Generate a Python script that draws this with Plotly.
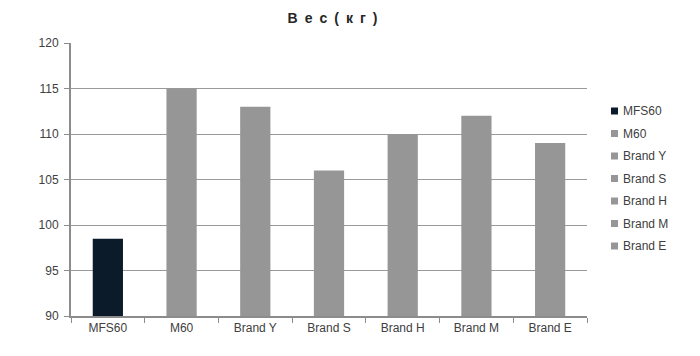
import plotly.graph_objects as go

categories = ["MFS60", "M60", "Brand Y", "Brand S", "Brand H", "Brand M", "Brand E"]
values = [98.5, 115, 113, 106, 110, 112, 109]
colors = ["#0b1b2a", "#969696", "#969696", "#969696", "#969696", "#969696", "#969696"]
y_ticks = [90, 95, 100, 105, 110, 115, 120]
title_text = "В\u2002е\u2002с\u2002(\u2002к\u2002г\u2002)"

FONT = "Liberation Sans, Arial, sans-serif"

# plot area in pixels
L, R, T, B = 71, 113, 43, 40
W, H = 700, 356
PW, PH = W - L - R, H - T - B

fig = go.Figure()
for c, v, col in zip(categories, values, colors):
    fig.add_trace(go.Bar(
        x=[c], y=[v], name=c, marker=dict(color=col, line=dict(width=0)),
        width=0.41, showlegend=False,
    ))

# custom legend (small squares + labels), built from the category list
shapes, annots = [], []
sq_x = (614.5 - L) / PW
tx_x = (620.5 - L) / PW
for i, (c, col) in enumerate(zip(categories, colors)):
    ypix = 111 + i * 22.5
    yp = (H - B - ypix) / PH
    shapes.append(dict(type="rect", xref="paper", yref="paper",
                       xsizemode="pixel", ysizemode="pixel",
                       xanchor=sq_x, yanchor=yp, x0=-3.5, x1=3.5, y0=-3.5, y1=3.5,
                       fillcolor=col, line=dict(width=0)))
    annots.append(dict(text=c, xref="paper", yref="paper", x=tx_x, y=yp,
                       xanchor="left", yanchor="middle", showarrow=False,
                       font=dict(family=FONT, size=12, color="#404040")))

fig.update_layout(
    width=W, height=H,
    margin=dict(l=L, r=R, t=T, b=B),
    paper_bgcolor="white", plot_bgcolor="white",
    barmode="overlay",
    font=dict(family=FONT, size=12, color="#404040"),
    title=dict(text="<b>" + title_text + "</b>", x=0.475, xanchor="center", y=0.95, yanchor="middle",
               font=dict(family=FONT, size=14, color="#262626")),
    shapes=shapes, annotations=annots,
    showlegend=False,
)
fig.update_xaxes(
    categoryorder="array", categoryarray=categories,
    showline=True, linecolor="#8c8c8c", linewidth=2,
    ticks="outside", tickson="boundaries", ticklen=5, tickcolor="#8c8c8c", tickwidth=1,
    showgrid=False, tickfont=dict(size=12, color="#404040"),
)
fig.update_yaxes(
    range=[90, 120], tickvals=y_ticks, ticktext=[str(t) for t in y_ticks],
    showline=True, linecolor="#8c8c8c", linewidth=2,
    ticks="outside", ticklen=5, tickcolor="#8c8c8c", tickwidth=1,
    ticklabelstandoff=3,
    showgrid=True, gridcolor="#9a9a9a", gridwidth=1, zeroline=False,
    tickfont=dict(size=12, color="#404040"),
)

fig.write_html("out.html")
